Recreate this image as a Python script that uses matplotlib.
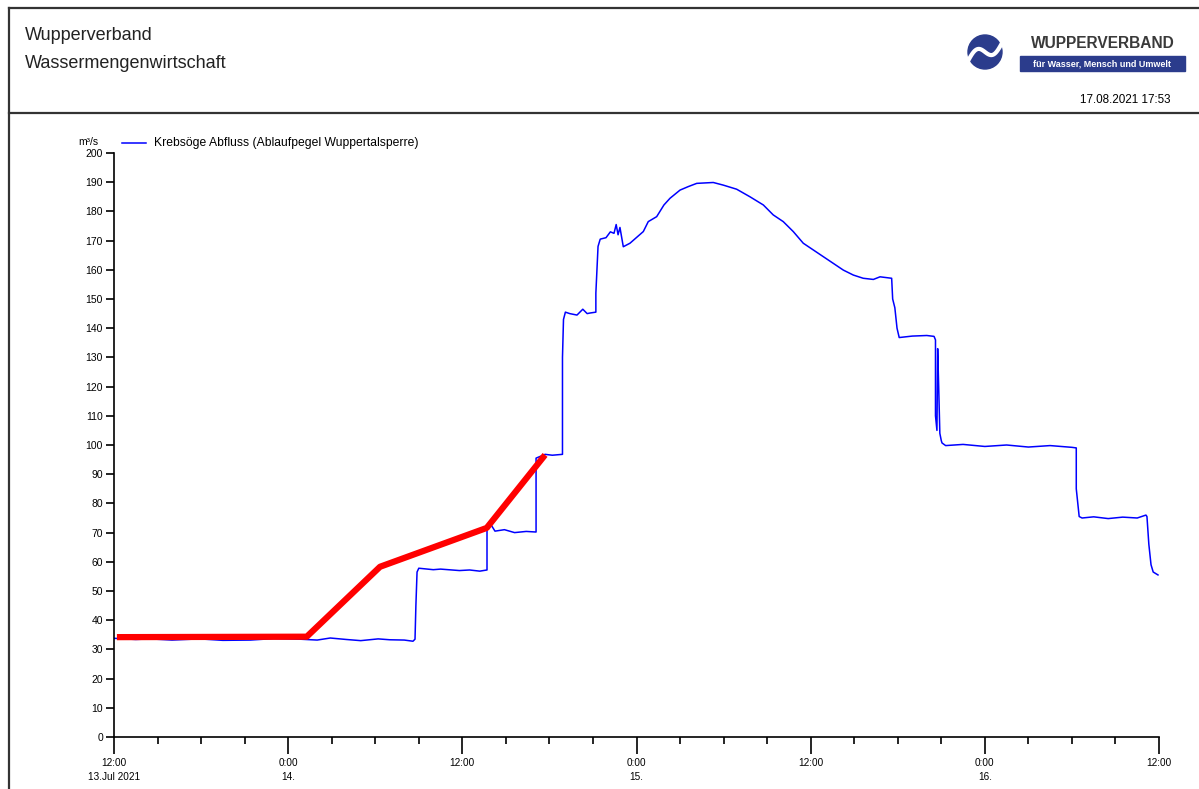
import matplotlib
matplotlib.use("Agg")
import matplotlib.pyplot as plt
import matplotlib.dates as mdates
from matplotlib.patches import Circle, Rectangle
from matplotlib.lines import Line2D
import numpy as np
import datetime as dt

plt.rcParams['font.family'] = ['Liberation Sans', 'DejaVu Sans']

start = dt.datetime(2021, 7, 13, 12, 0)
end = dt.datetime(2021, 7, 16, 12, 0)

# Krebsöge Abfluss, hours since 13.07.2021 12:00 and m³/s
blue_hours = [0, 1.5, 2.5, 4.0, 5.9, 7.5, 9.4, 11.0, 12.8, 14.0, 14.9, 16.0, 17.0, 18.2, 19.0,
              20.0, 20.6, 20.74,
              20.80, 20.88, 21.0, 22.0, 22.5, 23.8, 24.5, 25.2, 25.70,
              25.70, 26.0, 26.25, 26.9, 27.6, 28.4, 29.08,
              29.08, 29.7, 30.2, 30.90,
              30.90, 30.97, 31.1, 31.4, 31.9, 32.3, 32.6, 32.8, 33.2,
              33.2, 33.35, 33.5, 33.9, 34.2, 34.45, 34.6, 34.73, 34.86, 35.09,
              35.55, 36.01, 36.47, 36.81, 37.39, 37.89, 38.31, 39.00, 39.57, 40.15,
              41.29, 41.98, 42.90, 43.82, 44.74, 45.42, 46.11, 46.80, 47.49, 48.18,
              48.87, 49.56, 50.25, 50.94, 51.62, 52.32, 52.78, 53.58,
              53.65, 53.80, 53.95, 54.10, 55.0, 56.0, 56.5, 56.6,
              56.6, 56.7, 56.75, 56.82, 56.9, 57.0, 57.05,
              57.3, 58.5, 60.0, 61.5, 63.0, 64.5, 66.0, 66.3,
              66.3, 66.5, 66.7, 67.5, 68.5, 69.5, 70.5, 71.1, 71.17,
              71.3, 71.45, 71.6, 71.93]
blue_values = [33.8, 33.4, 33.6, 33.2, 33.6, 33.1, 33.2, 33.7, 33.5, 33.2, 33.9, 33.4, 33.0, 33.6, 33.3,
               33.2, 32.8, 33.5,
               45.0, 56.5, 57.8, 57.3, 57.5, 57.0, 57.2, 56.8, 57.2,
               72.0, 72.5, 70.5, 71.0, 70.0, 70.4, 70.2,
               95.5, 96.8, 96.5, 96.8,
               130.0, 143.0, 145.5, 145.0, 144.5, 146.5, 145.0, 145.2, 145.5,
               152.0, 168.0, 170.5, 171.0, 173.0, 172.5, 175.5, 172.0, 174.5, 167.9,
               169.1, 171.1, 173.1, 176.5, 178.2, 182.2, 184.5, 187.3, 188.5, 189.6,
               189.9, 189.0, 187.6, 185.0, 182.2, 178.8, 176.5, 173.1, 169.1, 166.8,
               164.5, 162.2, 159.9, 158.2, 157.1, 156.7, 157.6, 157.1,
               150.0, 147.0, 140.0, 136.8, 137.3, 137.5, 137.2, 136.0,
               110.0, 105.0, 133.0, 120.0, 104.0, 101.5, 100.7,
               99.8, 100.2, 99.5, 100.0, 99.3, 99.8, 99.2, 99.0,
               85.0, 75.5, 75.0, 75.4, 74.8, 75.3, 75.0, 76.0, 75.5,
               66.0, 59.0, 56.5, 55.5]

# red overlay
red_hours = [0.2, 13.28, 18.33, 25.68, 29.7]
red_values = [34.2, 34.35, 58.3, 71.6, 96.6]

blue_t = [start + dt.timedelta(hours=h) for h in blue_hours]
red_t = [start + dt.timedelta(hours=h) for h in red_hours]

W, H = 1199, 789
fig = plt.figure(figsize=(W / 100, H / 100), dpi=100)

ax = fig.add_axes([114 / W, (H - 737) / H, (1159 - 114) / W, (737 - 153) / H])
ax.plot(blue_t, blue_values, color="#0000FF", linewidth=1.1)
ax.plot(red_t, red_values, color="#FF0000", linewidth=4.5, solid_capstyle="butt")

ax.set_xlim(start, end)
ax.set_ylim(0, 200)
ax.set_yticks(np.arange(0, 201, 10))
ax.spines['top'].set_visible(False)
ax.spines['right'].set_visible(False)
for s in ['left', 'bottom']:
    ax.spines[s].set_linewidth(1.2)
ax.tick_params(axis='y', length=6, width=1.2, labelsize=7.5, pad=2)

major = [start + dt.timedelta(hours=12 * i) for i in range(7)]
xlabels = ["12:00\n13.Jul 2021", "0:00\n14.", "12:00", "0:00\n15.", "12:00", "0:00\n16.", "12:00"]
ax.set_xticks(major)
ax.set_xticklabels(xlabels, linespacing=1.5)
ax.xaxis.set_minor_locator(mdates.HourLocator(byhour=range(0, 24, 3)))
ax.tick_params(axis='x', which='major', length=12, width=1.2, labelsize=7.2, pad=3)
ax.tick_params(axis='x', which='minor', length=5, width=1.2)

# unit and legend
fig.text(88 / W, 1 - 142 / H, "m³/s", fontsize=7.5, ha="center", va="center")
fig.add_artist(Line2D([122 / W, 146 / W], [1 - 143 / H, 1 - 143 / H], color="#0000FF", linewidth=1.1))
fig.text(154 / W, 1 - 143 / H, "Krebsöge Abfluss (Ablaufpegel Wuppertalsperre)", fontsize=8.7, va="center")

# header frame
frame = dict(color="#333333", linewidth=1.6)
fig.add_artist(Line2D([9 / W, 1], [1 - 8 / H, 1 - 8 / H], **frame))
fig.add_artist(Line2D([9 / W, 9 / W], [0, 1 - 8 / H], **frame))
fig.add_artist(Line2D([9 / W, 1], [1 - 113 / H, 1 - 113 / H], **frame))

fig.text(25 / W, 1 - 36 / H, "Wupperverband", fontsize=13, va="center", color="#222222")
fig.text(25 / W, 1 - 63 / H, "Wassermengenwirtschaft", fontsize=13, va="center", color="#222222")
fig.text(1170 / W, 1 - 100 / H, "17.08.2021 17:53", fontsize=8.4, ha="right", va="center")

# logo
lax = fig.add_axes([955 / W, 1 - 82 / H, 60 / W, 60 / H])
lax.set_xlim(-30, 30)
lax.set_ylim(-30, 30)
lax.set_aspect("equal")
lax.axis("off")
lax.add_patch(Circle((0, 0), 17, color="#2B3C8C"))
s = np.linspace(-1, 1, 50)
lax.plot(s * 17, -7 * np.sin(s * np.pi) + s * 9, color="white", linewidth=3.0)
fig.text(1103 / W, 1 - 44 / H, "WUPPERVERBAND", fontsize=11.2, fontweight="bold",
         ha="center", va="center", color="#3a3a3a")
fig.add_artist(Rectangle((1020 / W, 1 - 71 / H), 165 / W, 15 / H, color="#2B3C8C",
                         transform=fig.transFigure))
fig.text(1102 / W, 1 - 63.5 / H, "für Wasser, Mensch und Umwelt", fontsize=6.5, fontweight="bold",
         ha="center", va="center", color="white")

fig.savefig("out.png", dpi=100)
